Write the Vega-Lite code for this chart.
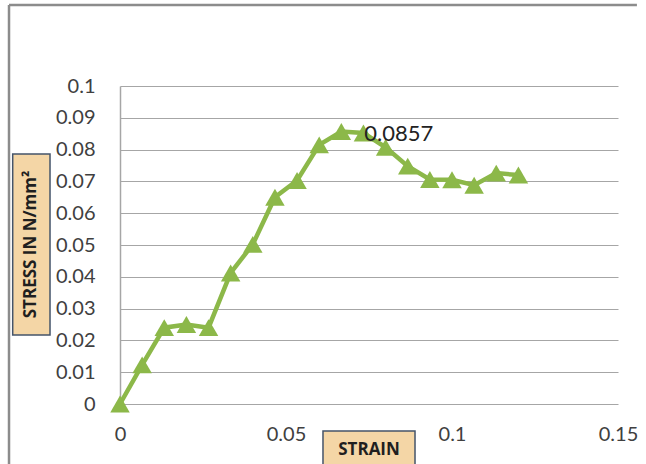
{
  "$schema": "https://vega.github.io/schema/vega-lite/v6.json",
  "width": 498,
  "height": 318,
  "autosize": {"type": "none"},
  "padding": {"left": 120, "top": 86, "right": 28, "bottom": 60},
  "background": "white",
  "config": {
    "view": {"stroke": null},
    "font": "Lato",
    "axis": {"labelFont": "Lato", "labelFontSize": 20, "labelColor": "#404040"}
  },
  "data": {
    "values": [
      {"strain": 0, "stress": 0},
      {"strain": 0.00667, "stress": 0.0123},
      {"strain": 0.01333, "stress": 0.024},
      {"strain": 0.02, "stress": 0.025},
      {"strain": 0.02667, "stress": 0.024},
      {"strain": 0.03333, "stress": 0.0412},
      {"strain": 0.04, "stress": 0.0502},
      {"strain": 0.04667, "stress": 0.065},
      {"strain": 0.05333, "stress": 0.0703},
      {"strain": 0.06, "stress": 0.0815},
      {"strain": 0.06667, "stress": 0.0857, "label": "0.0857"},
      {"strain": 0.07333, "stress": 0.0852},
      {"strain": 0.08, "stress": 0.0807},
      {"strain": 0.08667, "stress": 0.0748},
      {"strain": 0.09333, "stress": 0.0706},
      {"strain": 0.1, "stress": 0.0705},
      {"strain": 0.10667, "stress": 0.0688},
      {"strain": 0.11333, "stress": 0.0726},
      {"strain": 0.12, "stress": 0.072}
    ]
  },
  "layer": [
    {
      "mark": {"type": "line", "color": "#8cb849", "strokeWidth": 4.5},
      "encoding": {
        "x": {
          "field": "strain", "type": "quantitative",
          "scale": {"domain": [0, 0.15], "nice": false, "zero": true},
          "axis": {"values": [0, 0.05, 0.1, 0.15], "tickCount": 20, "labelExpr": "'' + round(datum.value * 100000) / 100000", "labelOverlap": false, "labelFlush": false, "grid": false, "domain": false, "ticks": false, "labelPadding": 20, "title": null}
        },
        "y": {
          "field": "stress", "type": "quantitative",
          "scale": {"domain": [0, 0.1], "nice": false},
          "axis": {"values": [0, 0.01, 0.02, 0.03, 0.04, 0.05, 0.06, 0.07, 0.08, 0.09, 0.1], "tickCount": 20, "labelExpr": "'' + round(datum.value * 100000) / 100000", "labelOverlap": false, "labelFlush": false, "grid": true, "gridColor": "#a6a6a6", "gridWidth": 1, "domain": true, "domainColor": "#a6a6a6", "domainWidth": 1.5, "ticks": false, "labelPadding": 25, "title": null}
        }
      }
    },
    {
      "mark": {"type": "point", "shape": "triangle-up", "filled": true, "color": "#8cb849", "opacity": 1, "size": 380},
      "encoding": {
        "x": {"field": "strain", "type": "quantitative"},
        "y": {"field": "stress", "type": "quantitative"}
      }
    },
    {
      "transform": [{"filter": "datum.label != null"}],
      "mark": {"type": "text", "align": "left", "baseline": "middle", "dx": 23, "dy": 3, "fontSize": 22, "color": "#222222", "font": "Lato"},
      "encoding": {
        "x": {"field": "strain", "type": "quantitative"},
        "y": {"field": "stress", "type": "quantitative"},
        "text": {"field": "label"}
      }
    },
    {
      "data": {"values": [{"box": "y"}]},
      "mark": {"type": "rect", "fill": "#f4d6a6", "stroke": "#44546a", "strokeWidth": 1.5, "clip": false},
      "encoding": {
        "x": {"datum": -0.03232, "type": "quantitative"},
        "x2": {"datum": -0.02108},
        "y": {"datum": 0.07862, "type": "quantitative"},
        "y2": {"datum": 0.0217}
      }
    },
    {
      "data": {"values": [{"box": "x"}]},
      "mark": {"type": "rect", "fill": "#f4d6a6", "stroke": "#44546a", "strokeWidth": 1.5, "clip": false},
      "encoding": {
        "x": {"datum": 0.06114, "type": "quantitative"},
        "x2": {"datum": 0.08886},
        "y": {"datum": -0.00849, "type": "quantitative"},
        "y2": {"datum": -0.0215}
      }
    },
    {
      "data": {"values": [{"title": "STRESS IN N/mm²"}]},
      "mark": {"type": "text", "angle": 270, "align": "center", "baseline": "middle", "font": "Open Sans", "fontWeight": "bold", "fontSize": 17, "color": "#1f1f1f"},
      "encoding": {
        "x": {"datum": -0.02669, "type": "quantitative"},
        "y": {"datum": 0.05016, "type": "quantitative"},
        "text": {"field": "title"}
      }
    },
    {
      "data": {"values": [{"title": "STRAIN"}]},
      "mark": {"type": "text", "align": "center", "baseline": "middle", "font": "Open Sans", "fontWeight": "bold", "fontSize": 17, "color": "#1f1f1f"},
      "encoding": {
        "x": {"datum": 0.075, "type": "quantitative"},
        "y": {"datum": -0.01447, "type": "quantitative"},
        "text": {"field": "title"}
      }
    },
    {
      "data": {"values": [{"edge": "top"}]},
      "mark": {"type": "rule", "stroke": "#8c8c8c", "strokeWidth": 2.5, "clip": false},
      "encoding": {
        "x": {"datum": -0.03343, "type": "quantitative"},
        "x2": {"datum": 0.1557},
        "y": {"datum": 0.12547, "type": "quantitative"}
      }
    },
    {
      "data": {"values": [{"edge": "left"}]},
      "mark": {"type": "rule", "stroke": "#8c8c8c", "strokeWidth": 2.5, "clip": false},
      "encoding": {
        "x": {"datum": -0.03343, "type": "quantitative"},
        "y": {"datum": 0.12547, "type": "quantitative"},
        "y2": {"datum": -0.04}
      }
    }
  ]
}
